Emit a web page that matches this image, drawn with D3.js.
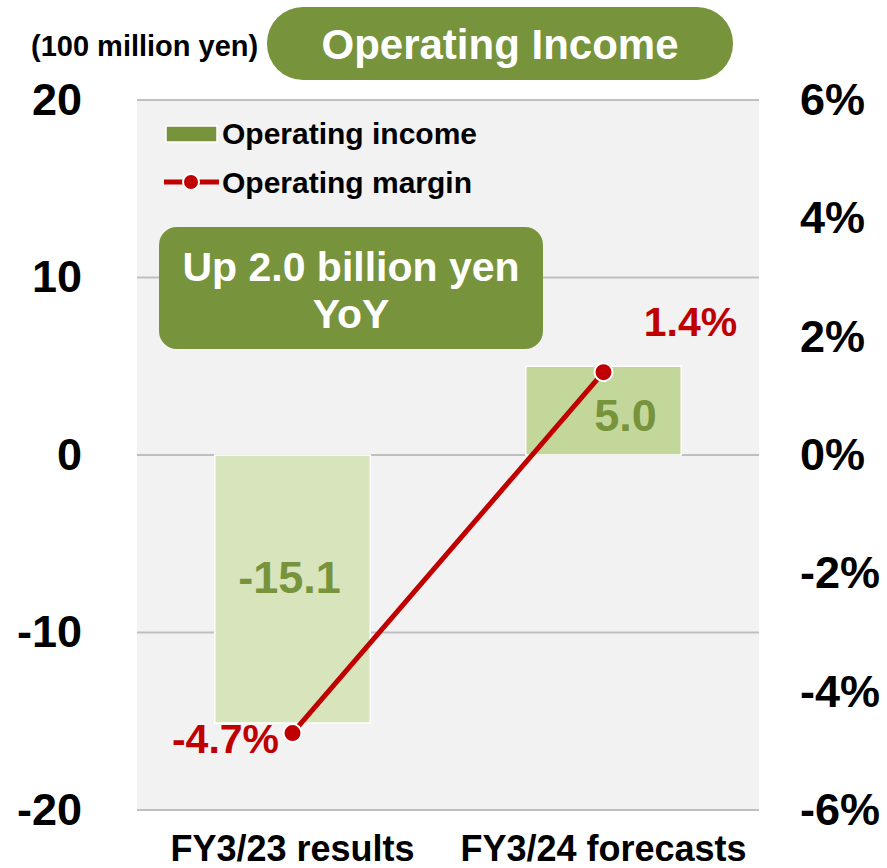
<!DOCTYPE html>
<meta charset="utf-8">
<style>
body { margin: 0; background: #fff; }
text { font-family: "Liberation Sans", Arial, sans-serif; font-weight: bold; }
</style>
<body>
<svg width="887" height="868"></svg>
<script src="https://cdn.jsdelivr.net/npm/d3@7"></script>
<script>

var categories = ["FY3/23 results", "FY3/24 forecasts"];
var income = [-15.1, 5.0];
var margin = [-4.7, 1.4];
var incomeTicks = [20, 10, 0, -10, -20];
var marginTicks = [6, 4, 2, 0, -2, -4, -6];
var barColors = ["#d8e4bc", "#c4d79b"];

var svg = d3.select("svg");

var x = d3.scaleBand()
    .domain(categories)
    .range([137, 759])
    .paddingInner(0.5)
    .paddingOuter(0.25);

var y = d3.scaleLinear()
    .domain([-20, 20])
    .range([810, 100]);

var y2 = d3.scaleLinear()
    .domain([-6, 6])
    .range([810, 100]);

// plot background
svg.append("rect")
    .attr("x", 137)
    .attr("y", 100)
    .attr("width", 622)
    .attr("height", 710)
    .attr("fill", "#f2f2f2");

// gridlines
svg.append("g")
    .selectAll("line")
    .data(incomeTicks)
    .enter().append("line")
    .attr("x1", 137)
    .attr("x2", 759)
    .attr("y1", function(d) { return y(d); })
    .attr("y2", function(d) { return y(d); })
    .attr("stroke", "#bfbfbf")
    .attr("stroke-width", 2);

// left axis
svg.append("g")
    .attr("transform", "translate(82,0)")
    .call(d3.axisLeft(y).tickValues(incomeTicks).tickSize(0).tickPadding(0)
        .tickFormat(function(d) { return String(d); }))
    .call(function(g) { g.select(".domain").remove(); })
    .selectAll("text")
    .attr("font-size", 45)
    .attr("font-family", null)
    .attr("fill", "#000");

// right axis
svg.append("g")
    .attr("transform", "translate(800,0)")
    .call(d3.axisRight(y2).tickValues(marginTicks).tickSize(0).tickPadding(0)
        .tickFormat(function(d) { return d + "%"; }))
    .call(function(g) { g.select(".domain").remove(); })
    .selectAll("text")
    .attr("font-size", 45)
    .attr("font-family", null)
    .attr("fill", "#000");

// bars
svg.append("g")
    .selectAll("rect")
    .data(income)
    .enter().append("rect")
    .attr("x", function(d, i) { return x(categories[i]); })
    .attr("width", x.bandwidth())
    .attr("y", function(d) { return y(Math.max(0, d)); })
    .attr("height", function(d) { return Math.abs(y(d) - y(0)); })
    .attr("fill", function(d, i) { return barColors[i]; })
    .attr("stroke", "#fff")
    .attr("stroke-width", 1.5);

// bar labels
var barLabelOffsets = [[-3, 4], [22, 20]];
svg.append("g")
    .selectAll("text")
    .data(income)
    .enter().append("text")
    .attr("x", function(d, i) { return x(categories[i]) + x.bandwidth() / 2 + barLabelOffsets[i][0]; })
    .attr("y", function(d, i) { return y(d / 2) + barLabelOffsets[i][1]; })
    .attr("text-anchor", "middle")
    .attr("font-size", 45)
    .attr("fill", "#77933c")
    .text(function(d) { return d.toFixed(1); });

// category labels
svg.append("g")
    .selectAll("text")
    .data(categories)
    .enter().append("text")
    .attr("x", function(d) { return x(d) + x.bandwidth() / 2; })
    .attr("y", 861)
    .attr("text-anchor", "middle")
    .attr("font-size", 36)
    .attr("fill", "#000")
    .text(function(d) { return d; });

// margin line
var line = d3.line()
    .x(function(d, i) { return x(categories[i]) + x.bandwidth() / 2; })
    .y(function(d) { return y2(d); });

svg.append("path")
    .datum(margin)
    .attr("d", line)
    .attr("fill", "none")
    .attr("stroke", "#c00000")
    .attr("stroke-width", 5);

svg.append("g")
    .selectAll("circle")
    .data(margin)
    .enter().append("circle")
    .attr("cx", function(d, i) { return x(categories[i]) + x.bandwidth() / 2; })
    .attr("cy", function(d) { return y2(d); })
    .attr("r", 9)
    .attr("fill", "#c00000")
    .attr("stroke", "#fff")
    .attr("stroke-width", 2);

// margin labels
var labelOffsets = [[-67, 20], [87, -36]];
svg.append("g")
    .selectAll("text")
    .data(margin)
    .enter().append("text")
    .attr("x", function(d, i) { return x(categories[i]) + x.bandwidth() / 2 + labelOffsets[i][0]; })
    .attr("y", function(d, i) { return y2(d) + labelOffsets[i][1]; })
    .attr("text-anchor", "middle")
    .attr("font-size", 41)
    .attr("fill", "#c00000")
    .text(function(d) { return d.toFixed(1) + "%"; });

// legend
var legend = svg.append("g");
legend.append("rect")
    .attr("x", 166).attr("y", 126)
    .attr("width", 51).attr("height", 16)
    .attr("fill", "#77933c")
    .attr("stroke", "#fff")
    .attr("stroke-width", 1.5);
legend.append("text")
    .attr("x", 222).attr("y", 144)
    .attr("font-size", 30)
    .text("Operating income");
legend.append("line")
    .attr("x1", 164).attr("x2", 219)
    .attr("y1", 182).attr("y2", 182)
    .attr("stroke", "#c00000")
    .attr("stroke-width", 5);
legend.append("circle")
    .attr("cx", 191).attr("cy", 182).attr("r", 8)
    .attr("fill", "#c00000")
    .attr("stroke", "#fff")
    .attr("stroke-width", 2);
legend.append("text")
    .attr("x", 222).attr("y", 193)
    .attr("font-size", 30)
    .text("Operating margin");

// YoY callout
svg.append("rect")
    .attr("x", 159).attr("y", 227)
    .attr("width", 384).attr("height", 122)
    .attr("rx", 18)
    .attr("fill", "#77933c");
svg.append("text")
    .attr("x", 351).attr("y", 281)
    .attr("text-anchor", "middle")
    .attr("font-size", 41)
    .attr("fill", "#fff")
    .text("Up 2.0 billion yen");
svg.append("text")
    .attr("x", 351).attr("y", 328)
    .attr("text-anchor", "middle")
    .attr("font-size", 41)
    .attr("fill", "#fff")
    .text("YoY");

// title pill
svg.append("rect")
    .attr("x", 267).attr("y", 7)
    .attr("width", 466).attr("height", 73)
    .attr("rx", 36)
    .attr("fill", "#77933c");
svg.append("text")
    .attr("x", 500).attr("y", 59)
    .attr("text-anchor", "middle")
    .attr("font-size", 42)
    .attr("fill", "#fff")
    .text("Operating Income");

// unit label
svg.append("text")
    .attr("x", 31).attr("y", 56)
    .attr("font-size", 29)
    .text("(100 million yen)");

</script>
</body>
